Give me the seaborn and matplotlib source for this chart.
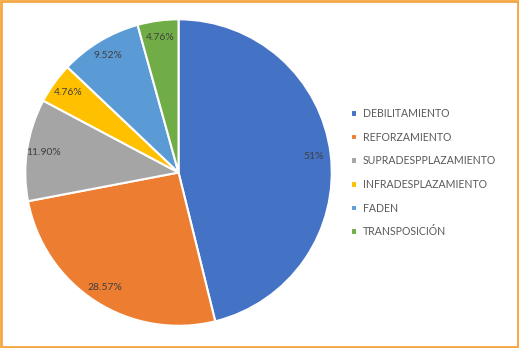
import seaborn as sns
import matplotlib.pyplot as plt
from matplotlib.patches import Rectangle

# data
categories = ['DEBILITAMIENTO', 'REFORZAMIENTO', 'SUPRADESPPLAZAMIENTO',
              'INFRADESPLAZAMIENTO', 'FADEN', 'TRANSPOSICIÓN']
values = [51, 28.57, 11.90, 4.76, 9.52, 4.76]
value_labels = ['51%', '28.57%', '11.90%', '4.76%', '9.52%', '4.76%']
colors = ['#4472C4', '#ED7D31', '#A5A5A5', '#FFC000', '#5B9BD5', '#70AD47']

sns.set_theme(style='white')
plt.rcParams['font.family'] = ['Lato', 'DejaVu Sans']

fig = plt.figure(figsize=(5.19, 3.48), dpi=100)
ax = fig.add_axes([0.0473, 0.0617, 0.5934, 0.885])

palette = sns.color_palette(colors)
lab_iter = iter(value_labels)
wedges, texts, autotexts = ax.pie(
    values, colors=palette, startangle=90, counterclock=False,
    autopct=lambda p: next(lab_iter), pctdistance=0.89,
    wedgeprops=dict(edgecolor='white', linewidth=1.5),
    textprops=dict(color='#404040', fontsize=7.5))
ax.set_xlim(-1.005, 1.005)
ax.set_ylim(-1.005, 1.005)
ax.set_aspect('equal')

fig.legend(wedges, categories, loc='center left',
           bbox_to_anchor=(351 / 519, 0.504), frameon=False,
           fontsize=7.6, labelcolor='#595959', handlelength=0.6,
           handleheight=0.6, handletextpad=0.5, labelspacing=1.2,
           borderaxespad=0, borderpad=0)

# orange frame
fig.patches.append(Rectangle((0.002, 0.003), 0.996, 0.994, transform=fig.transFigure,
                             fill=False, edgecolor='#F4A743', linewidth=2))

fig.savefig('out.png', dpi=100)
